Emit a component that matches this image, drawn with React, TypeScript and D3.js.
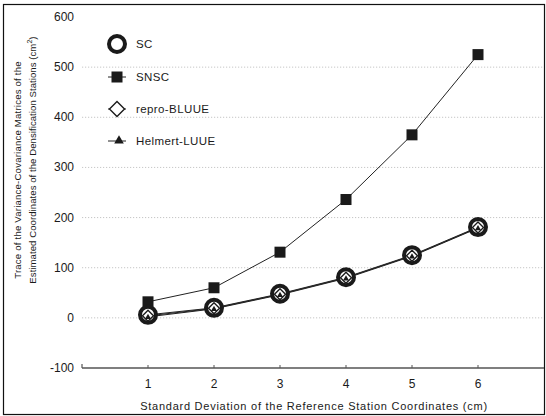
import React from "react";
import * as d3 from "d3";

// Standard deviation of the reference station coordinates (cm)
const sigma = [1, 2, 3, 4, 5, 6];
// Trace of the variance-covariance matrices (cm^2) for each estimator
const scValues = [6, 20, 48, 81, 125, 181];
const snscValues = [32, 60, 131, 236, 365, 525];
const reproBluueValues = [4, 19, 47, 80, 124, 180];
const helmertLuueValues = [2, 18, 46, 79, 123, 179];

const yTicks = [-100, 0, 100, 200, 300, 400, 500, 600];
const yGrid = [0, 100, 200, 300, 400, 500];
const xTicks = [1, 2, 3, 4, 5, 6];
const legendLabels = ["SC", "SNSC", "repro-BLUUE", "Helmert-LUUE"];

const W = 546;
const H = 416;
const FONT = "'Liberation Sans', Arial, sans-serif";
const INK = "#1a1a1a";

const x = d3.scaleLinear().domain([0, 7]).range([82, 544]);
const y = d3.scaleLinear().domain([-100, 600]).range([368, 17]);

const line = d3
  .line<[number, number]>()
  .x((d) => x(d[0]))
  .y((d) => y(d[1]));

const pts = (vals: number[]) => sigma.map((s, i) => [s, vals[i]] as [number, number]);

const diamond = (cx: number, cy: number, r: number) =>
  `M${cx},${cy - r}L${cx + r},${cy}L${cx},${cy + r}L${cx - r},${cy}Z`;
const triangle = (cx: number, cy: number, s: number) =>
  `M${cx},${cy - s * 0.6}L${cx + s * 0.6},${cy + s * 0.45}L${cx - s * 0.6},${cy + s * 0.45}Z`;

function CircleMark({ cx, cy }: { cx: number; cy: number }) {
  return <circle cx={cx} cy={cy} r={8} fill="#fff" stroke={INK} strokeWidth={4} />;
}
function SquareMark({ cx, cy }: { cx: number; cy: number }) {
  return <rect x={cx - 5.5} y={cy - 5.5} width={11} height={11} fill={INK} />;
}
function DiamondMark({ cx, cy, r = 6 }: { cx: number; cy: number; r?: number }) {
  return <path d={diamond(cx, cy, r)} fill="#fff" stroke={INK} strokeWidth={1.4} />;
}
function TriangleMark({ cx, cy, s = 6 }: { cx: number; cy: number; s?: number }) {
  return <path d={triangle(cx, cy, s)} fill={INK} />;
}

export default function App() {
  const legendY = [44, 77, 109, 141];
  return (
    <svg width={W} height={H} style={{ display: "block", position: "absolute", left: 0, top: 0 }}>
      <rect x={0} y={0} width={W} height={H} fill="#fff" />
      <rect x={3.5} y={4.5} width={W - 5} height={H - 6} fill="none" stroke="#111" strokeWidth={1.2} />

      {/* grid */}
      {yGrid.map((v) => (
        <line
          key={v}
          x1={x(0)}
          x2={x(7)}
          y1={y(v)}
          y2={y(v)}
          stroke="#b8b8b8"
          strokeWidth={0.8}
          strokeDasharray="1.2,1.8"
        />
      ))}

      {/* x axis */}
      <line x1={x(0)} x2={x(7)} y1={y(-100)} y2={y(-100)} stroke="#555" strokeWidth={1.6} />
      <line x1={x(0)} x2={x(0)} y1={y(-100)} y2={y(-100) - 4} stroke="#555" strokeWidth={1.2} />
      {xTicks.map((t) => (
        <g key={t}>
          <line x1={x(t)} x2={x(t)} y1={y(-100)} y2={y(-100) - 3} stroke="#555" strokeWidth={1} />
          <text x={x(t)} y={388} textAnchor="middle" fontFamily={FONT} fontSize={12} fill={INK}>
            {t}
          </text>
        </g>
      ))}
      {yTicks.map((t) => (
        <text
          key={t}
          x={74}
          y={y(t) + 4}
          textAnchor="end"
          fontFamily={FONT}
          fontSize={12}
          fill={INK}
        >
          {t}
        </text>
      ))}

      {/* axis titles */}
      <text x={314} y={410} textAnchor="middle" fontFamily={FONT} fontSize={11} fill={INK} letterSpacing={0.75}>
        Standard Deviation of the Reference Station Coordinates (cm)
      </text>
      <text
        transform="translate(21,170) rotate(-90)"
        textAnchor="middle"
        fontFamily={FONT}
        fontSize={9.6}
        fill={INK}
        letterSpacing={0.2}
      >
        Trace of the Variance-Covariance Matrices of the
      </text>
      <text
        transform="translate(36,160) rotate(-90)"
        textAnchor="middle"
        fontFamily={FONT}
        fontSize={9.6}
        fill={INK}
        letterSpacing={0.05}
      >
        Estimated Coordinates of the Densification Stations (cm
        <tspan dy={-4} fontSize={7}>
          2
        </tspan>
        <tspan dy={4}>)</tspan>
      </text>

      {/* series lines */}
      <path d={line(pts(snscValues)) || ""} fill="none" stroke="#222" strokeWidth={1} />
      <path d={line(pts(helmertLuueValues)) || ""} fill="none" stroke="#222" strokeWidth={1} />
      <path d={line(pts(reproBluueValues)) || ""} fill="none" stroke="#222" strokeWidth={1} />
      <path d={line(pts(scValues)) || ""} fill="none" stroke="#222" strokeWidth={1} />

      {/* markers */}
      {sigma.map((s, i) => (
        <SquareMark key={"sq" + i} cx={x(s)} cy={y(snscValues[i])} />
      ))}
      {sigma.map((s, i) => (
        <CircleMark key={"c" + i} cx={x(s)} cy={y(scValues[i])} />
      ))}
      {sigma.map((s, i) => (
        <DiamondMark key={"d" + i} cx={x(s)} cy={y(reproBluueValues[i])} r={5.5} />
      ))}
      {sigma.map((s, i) => (
        <TriangleMark key={"t" + i} cx={x(s)} cy={y(helmertLuueValues[i])} s={5} />
      ))}

      {/* legend */}
      {legendLabels.map((lab, i) => {
        const ly = legendY[i];
        const lx = 117;
        return (
          <g key={lab}>
            {i > 0 && <line x1={lx - 9} x2={lx + 9} y1={ly} y2={ly} stroke="#222" strokeWidth={1} />}
            {i === 0 && <CircleMark cx={lx} cy={ly} />}
            {i === 1 && <SquareMark cx={lx} cy={ly} />}
            {i === 2 && <DiamondMark cx={lx} cy={ly} r={7.5} />}
            {i === 3 && <TriangleMark cx={lx + 2} cy={ly - 1} s={8} />}
            <text x={136} y={ly + 4} fontFamily={FONT} fontSize={11.5} fill={INK} letterSpacing={0.4}>
              {lab}
            </text>
          </g>
        );
      })}
    </svg>
  );
}
